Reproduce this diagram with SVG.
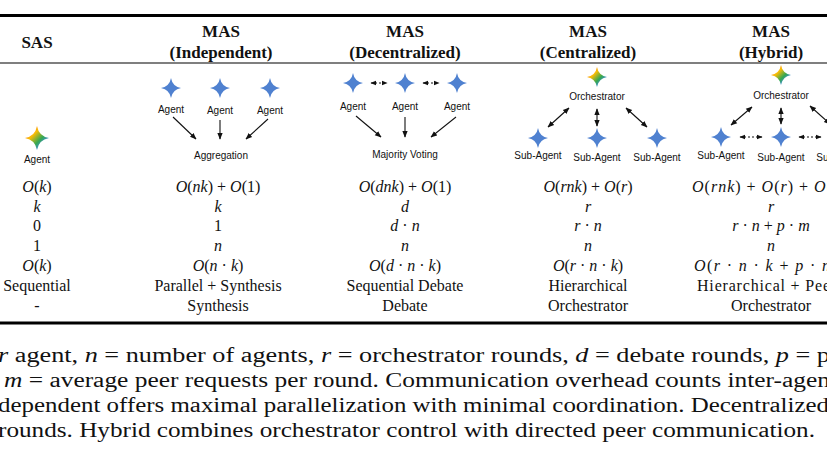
<svg xmlns="http://www.w3.org/2000/svg" width="827" height="466" viewBox="0 0 827 466">
<style>
.h{font-family:"Liberation Serif",serif;font-size:17px;font-weight:bold;text-anchor:middle;fill:#111}
.c{font-family:"Liberation Serif",serif;font-size:16px;text-anchor:middle;fill:#111}
.m{font-style:italic}
.s{font-family:"Liberation Sans",Arial,sans-serif;font-size:10px;text-anchor:middle;fill:#111}
.cap{font-family:"Liberation Serif",serif;font-size:20px;fill:#111}
.a{stroke:#111;stroke-width:1.1;fill:none;marker-end:url(#ah)}
.b{stroke:#111;stroke-width:1.1;fill:none;marker-end:url(#ah);marker-start:url(#as)}
.d{stroke:#111;stroke-width:1;fill:none;stroke-dasharray:2 2;marker-end:url(#ah);marker-start:url(#as)}
.st{fill:#4f81d0}
</style>
<defs>
<marker id="ah" viewBox="0 0 10 10" refX="9" refY="5" markerWidth="6" markerHeight="6" orient="auto"><path d="M0,1 L10,5 L0,9 Z" fill="#111"/></marker>
<marker id="as" viewBox="0 0 10 10" refX="1" refY="5" markerWidth="6" markerHeight="6" orient="auto"><path d="M10,1 L0,5 L10,9 Z" fill="#111"/></marker>
<linearGradient id="g" x1="0" y1="0" x2="1" y2="1">
<stop offset="0" stop-color="#e94235"/><stop offset="0.35" stop-color="#fbbc04"/><stop offset="0.6" stop-color="#34a853"/><stop offset="0.8" stop-color="#4285f4"/></linearGradient>
<path id="star" d="M0,-10 Q1.5,-1.5 10,0 Q1.5,1.5 0,10 Q-1.5,1.5 -10,0 Q-1.5,-1.5 0,-10 Z"/>
<path id="bstar" d="M0,-12 Q1.8,-1.8 12,0 Q1.8,1.8 0,12 Q-1.8,1.8 -12,0 Q-1.8,-1.8 0,-12 Z"/>
</defs>
<rect width="827" height="466" fill="#fff"/>
<line x1="0" y1="15.5" x2="827" y2="15.5" stroke="#000" stroke-width="3"/>
<line x1="0" y1="63" x2="827" y2="63" stroke="#000" stroke-width="1.2"/>
<line x1="0" y1="323" x2="827" y2="323" stroke="#000" stroke-width="3"/>
<g id="header">
<text class="h" x="37" y="48">SAS</text>
<text class="h" x="221" y="37">MAS</text><text class="h" x="221" y="58">(Independent)</text>
<text class="h" x="405" y="37">MAS</text><text class="h" x="405" y="58">(Decentralized)</text>
<text class="h" x="588" y="37">MAS</text><text class="h" x="588" y="58">(Centralized)</text>
<text class="h" x="771" y="37">MAS</text><text class="h" x="771" y="58">(Hybrid)</text>
</g>
<g id="sas">
<use href="#bstar" x="37" y="138" fill="url(#g)"/>
<text class="s" x="37" y="163">Agent</text>
</g>
<g id="independent">
<use href="#star" x="171" y="88" class="st"/><use href="#star" x="220" y="88" class="st"/><use href="#star" x="270" y="88" class="st"/>
<text class="s" x="171" y="113">Agent</text><text class="s" x="220" y="114">Agent</text><text class="s" x="270" y="114">Agent</text>
<text class="s" x="221" y="159">Aggregation</text>
</g>
<g id="decentralized">
<use href="#star" x="353" y="83" class="st"/><use href="#star" x="405" y="83" class="st"/><use href="#star" x="457" y="83" class="st"/>
<text class="s" x="353" y="110">Agent</text><text class="s" x="405" y="110">Agent</text><text class="s" x="457" y="110">Agent</text>
<text class="s" x="405" y="158">Majority Voting</text>
</g>
<g id="centralized">
<use href="#star" x="597" y="77" fill="url(#g)"/>
<text class="s" x="597" y="100">Orchestrator</text>
<use href="#star" x="538" y="138" class="st"/><use href="#star" x="597" y="138" class="st"/><use href="#star" x="657" y="138" class="st"/>
<text class="s" x="538" y="159">Sub-Agent</text><text class="s" x="597" y="161">Sub-Agent</text><text class="s" x="657" y="161">Sub-Agent</text>
</g>
<g id="hybrid">
<use href="#star" x="781" y="75" fill="url(#g)"/>
<text class="s" x="781" y="99">Orchestrator</text>
<use href="#star" x="721" y="137" class="st"/><use href="#star" x="781" y="137" class="st"/><use href="#star" x="840" y="137" class="st"/>
<text class="s" x="721" y="159">Sub-Agent</text><text class="s" x="781" y="161">Sub-Agent</text><text class="s" x="840" y="161">Sub-Agent</text>
</g>
<g id="connectors">
<line class="a" x1="173" y1="117" x2="196" y2="139"/>
<line class="a" x1="220" y1="120" x2="220" y2="139"/>
<line class="a" x1="268" y1="119" x2="246" y2="139"/>
<line class="d" x1="371" y1="83" x2="387" y2="83"/>
<line class="d" x1="423" y1="83" x2="439" y2="83"/>
<line class="a" x1="356" y1="116" x2="381" y2="137"/>
<line class="a" x1="405" y1="117" x2="405" y2="137"/>
<line class="a" x1="456" y1="117" x2="431" y2="137"/>
<line class="b" x1="569" y1="108" x2="548" y2="127"/>
<line class="b" x1="597" y1="109" x2="597" y2="126"/>
<line class="b" x1="626" y1="108" x2="647" y2="127"/>
<line class="b" x1="752" y1="107" x2="731" y2="125"/>
<line class="b" x1="781" y1="108" x2="781" y2="124"/>
<line class="b" x1="810" y1="106" x2="830" y2="124"/>
<line class="d" x1="740" y1="137" x2="762" y2="137"/>
<line class="d" x1="799" y1="137" x2="821" y2="137"/>
</g>
<g id="rows" class="c">
<text x="37" y="192"><tspan class="m">O</tspan>(<tspan class="m">k</tspan>)</text>
<text x="37" y="212" class="m">k</text>
<text x="37" y="231">0</text>
<text x="37" y="251">1</text>
<text x="37" y="271"><tspan class="m">O</tspan>(<tspan class="m">k</tspan>)</text>
<text x="37" y="291">Sequential</text>
<text x="37" y="311">-</text>
<text x="218" y="192"><tspan class="m">O</tspan>(<tspan class="m">nk</tspan>) + <tspan class="m">O</tspan>(1)</text>
<text x="218" y="212" class="m">k</text>
<text x="218" y="231">1</text>
<text x="218" y="251" class="m">n</text>
<text x="218" y="271"><tspan class="m">O</tspan>(<tspan class="m">n</tspan> · <tspan class="m">k</tspan>)</text>
<text x="218" y="291">Parallel + Synthesis</text>
<text x="218" y="311">Synthesis</text>
<text x="405" y="192"><tspan class="m">O</tspan>(<tspan class="m">dnk</tspan>) + <tspan class="m">O</tspan>(1)</text>
<text x="405" y="212" class="m">d</text>
<text x="405" y="231"><tspan class="m">d</tspan> · <tspan class="m">n</tspan></text>
<text x="405" y="251" class="m">n</text>
<text x="405" y="271"><tspan class="m">O</tspan>(<tspan class="m">d</tspan> · <tspan class="m">n</tspan> · <tspan class="m">k</tspan>)</text>
<text x="405" y="291">Sequential Debate</text>
<text x="405" y="311">Debate</text>
<text x="588" y="192"><tspan class="m">O</tspan>(<tspan class="m">rnk</tspan>) + <tspan class="m">O</tspan>(<tspan class="m">r</tspan>)</text>
<text x="588" y="212" class="m">r</text>
<text x="588" y="231"><tspan class="m">r</tspan> · <tspan class="m">n</tspan></text>
<text x="588" y="251" class="m">n</text>
<text x="588" y="271"><tspan class="m">O</tspan>(<tspan class="m">r</tspan> · <tspan class="m">n</tspan> · <tspan class="m">k</tspan>)</text>
<text x="588" y="291">Hierarchical</text>
<text x="588" y="311">Orchestrator</text>
<text x="692" y="192" text-anchor="start" textLength="140"><tspan class="m">O</tspan>(<tspan class="m">rnk</tspan>) + <tspan class="m">O</tspan>(<tspan class="m">r</tspan>) + <tspan class="m">O</tspan>(</text>
<text x="771" y="212" class="m">r</text>
<text x="771" y="231"><tspan class="m">r</tspan> · <tspan class="m">n</tspan> + <tspan class="m">p</tspan> · <tspan class="m">m</tspan></text>
<text x="771" y="251" class="m">n</text>
<text x="694" y="271" text-anchor="start" textLength="136"><tspan class="m">O</tspan>(<tspan class="m">r</tspan> · <tspan class="m">n</tspan> · <tspan class="m">k</tspan> + <tspan class="m">p</tspan> · <tspan class="m">n</tspan></text>
<text x="697" y="291" text-anchor="start" textLength="133">Hierarchical + Pee</text>
<text x="771" y="311">Orchestrator</text>
</g>
<g id="caption" class="cap">
<text x="-2" y="362" textLength="832" lengthAdjust="spacingAndGlyphs"><tspan class="m">r</tspan> agent, <tspan class="m">n</tspan> = number of agents, <tspan class="m">r</tspan> = orchestrator rounds, <tspan class="m">d</tspan> = debate rounds, <tspan class="m">p</tspan> = p</text>
<text x="4" y="387" textLength="826" lengthAdjust="spacingAndGlyphs"><tspan class="m">m</tspan> = average peer requests per round. Communication overhead counts inter-agen</text>
<text x="-2" y="412" textLength="831" lengthAdjust="spacingAndGlyphs">dependent offers maximal parallelization with minimal coordination. Decentralized</text>
<text x="-2" y="437" textLength="817" lengthAdjust="spacingAndGlyphs">rounds. Hybrid combines orchestrator control with directed peer communication.</text>
</g>
</svg>
